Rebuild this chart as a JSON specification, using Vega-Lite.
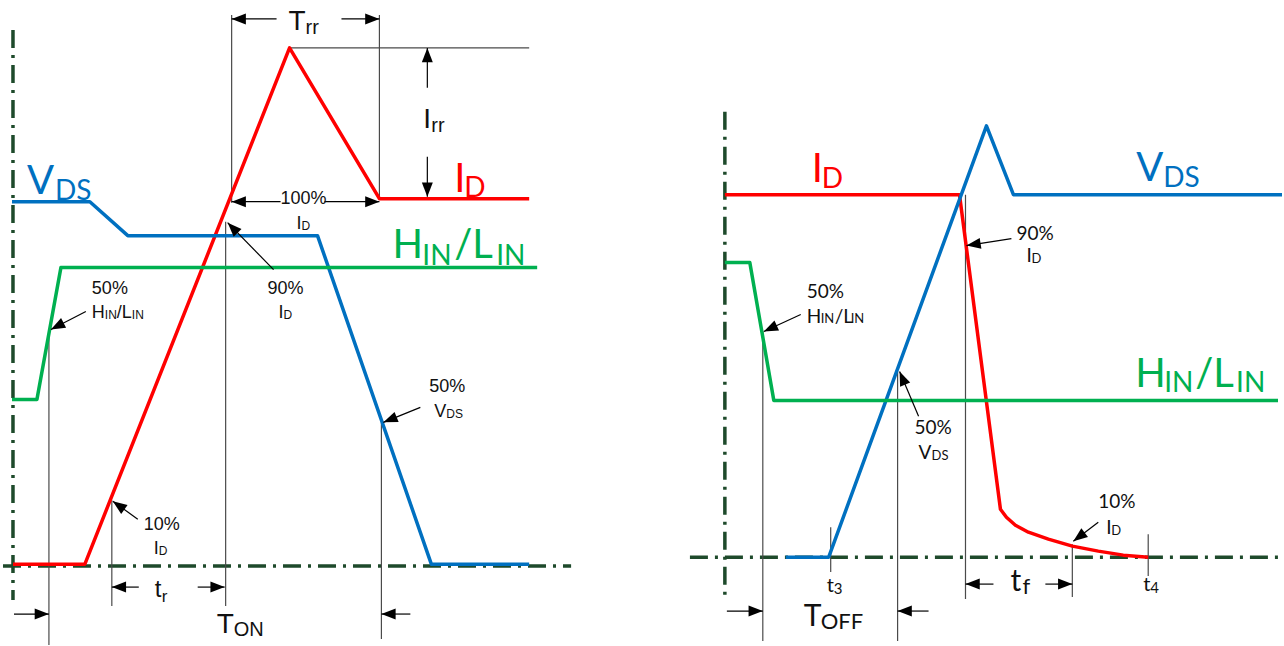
{
  "$schema": "https://vega.github.io/schema/vega-lite/v6.json",
  "width": 1284,
  "height": 646,
  "autosize": {"type": "fit", "contains": "padding"},
  "padding": 0,
  "background": "white",
  "config": {"view": {"stroke": null}},
  "datasets": {
    "axes": [
      {"x": 13, "y": 30, "x2": 13, "y2": 601},
      {"x": 3, "y": 567, "x2": 572, "y2": 567},
      {"x": 726, "y": 112, "x2": 726, "y2": 597},
      {"x": 691, "y": 558, "x2": 1284, "y2": 558}
    ],
    "guides": [
      {"x": 49, "y": 330, "x2": 49, "y2": 646},
      {"x": 112, "y": 501, "x2": 112, "y2": 607},
      {"x": 226, "y": 222, "x2": 226, "y2": 607},
      {"x": 232, "y": 15, "x2": 232, "y2": 203},
      {"x": 380, "y": 15, "x2": 380, "y2": 199},
      {"x": 382, "y": 423, "x2": 382, "y2": 640},
      {"x": 290, "y": 48, "x2": 530, "y2": 48},
      {"x": 764, "y": 332, "x2": 764, "y2": 642},
      {"x": 899, "y": 372, "x2": 899, "y2": 642},
      {"x": 832, "y": 528, "x2": 832, "y2": 573},
      {"x": 967, "y": 195, "x2": 967, "y2": 600},
      {"x": 1074, "y": 545, "x2": 1074, "y2": 598},
      {"x": 1150, "y": 535, "x2": 1150, "y2": 577}
    ],
    "waves": [
      {"p": "L", "s": "ID", "x": 13, "y": 565},
      {"p": "L", "s": "ID", "x": 85, "y": 565},
      {"p": "L", "s": "ID", "x": 290, "y": 48},
      {"p": "L", "s": "ID", "x": 380, "y": 199},
      {"p": "L", "s": "ID", "x": 530, "y": 199},
      {"p": "L", "s": "VDS", "x": 12, "y": 202},
      {"p": "L", "s": "VDS", "x": 90, "y": 202},
      {"p": "L", "s": "VDS", "x": 128, "y": 236},
      {"p": "L", "s": "VDS", "x": 318, "y": 236},
      {"p": "L", "s": "VDS", "x": 432, "y": 565},
      {"p": "L", "s": "VDS", "x": 530, "y": 565},
      {"p": "L", "s": "HIN", "x": 12, "y": 400},
      {"p": "L", "s": "HIN", "x": 37, "y": 400},
      {"p": "L", "s": "HIN", "x": 61, "y": 268},
      {"p": "L", "s": "HIN", "x": 538, "y": 268},
      {"p": "R", "s": "ID", "x": 726, "y": 195},
      {"p": "R", "s": "ID", "x": 961, "y": 195},
      {"p": "R", "s": "ID", "x": 1002, "y": 510},
      {"p": "R", "s": "ID", "x": 1008, "y": 518},
      {"p": "R", "s": "ID", "x": 1017, "y": 526},
      {"p": "R", "s": "ID", "x": 1030, "y": 533},
      {"p": "R", "s": "ID", "x": 1050, "y": 540},
      {"p": "R", "s": "ID", "x": 1074, "y": 547},
      {"p": "R", "s": "ID", "x": 1100, "y": 552},
      {"p": "R", "s": "ID", "x": 1125, "y": 556},
      {"p": "R", "s": "ID", "x": 1150, "y": 558},
      {"p": "R", "s": "VDS", "x": 787, "y": 558},
      {"p": "R", "s": "VDS", "x": 830, "y": 558},
      {"p": "R", "s": "VDS", "x": 988, "y": 126},
      {"p": "R", "s": "VDS", "x": 1015, "y": 195},
      {"p": "R", "s": "VDS", "x": 1284, "y": 195},
      {"p": "R", "s": "HIN", "x": 726, "y": 263},
      {"p": "R", "s": "HIN", "x": 751, "y": 263},
      {"p": "R", "s": "HIN", "x": 775, "y": 401},
      {"p": "R", "s": "HIN", "x": 1280, "y": 401}
    ],
    "arrows": [
      {"x": 277, "y": 19, "hx": 232, "hy": 19},
      {"x": 342, "y": 19, "hx": 380, "hy": 19},
      {"x": 428, "y": 88, "hx": 428, "hy": 48},
      {"x": 428, "y": 157, "hx": 428, "hy": 197},
      {"x": 281, "y": 202, "hx": 232, "hy": 202},
      {"x": 325, "y": 202, "hx": 380, "hy": 202},
      {"x": 274, "y": 270, "hx": 228, "hy": 223},
      {"x": 86, "y": 312, "hx": 51, "hy": 330},
      {"x": 138, "y": 520, "hx": 113, "hy": 502},
      {"x": 421, "y": 408, "hx": 384, "hy": 423},
      {"x": 139, "y": 588, "hx": 112, "hy": 588},
      {"x": 198, "y": 588, "hx": 225, "hy": 588},
      {"x": 14, "y": 615, "hx": 49, "hy": 615},
      {"x": 411, "y": 615, "hx": 382, "hy": 615},
      {"x": 802, "y": 315, "hx": 765, "hy": 332},
      {"x": 1013, "y": 239, "hx": 968, "hy": 246},
      {"x": 920, "y": 417, "hx": 901, "hy": 372},
      {"x": 1100, "y": 523, "hx": 1075, "hy": 542},
      {"x": 728, "y": 612, "hx": 764, "hy": 612},
      {"x": 930, "y": 612, "hx": 899, "hy": 612},
      {"x": 995, "y": 585, "hx": 967, "hy": 585},
      {"x": 1047, "y": 585, "hx": 1074, "hy": 585}
    ],
    "txtL": [
      {"t": "50%", "k": "a", "x": 92, "y": 294},
      {"t": "H", "k": "a", "x": 92, "y": 318},
      {"t": "IN", "k": "as", "x": 105, "y": 319},
      {"t": "/L", "k": "a", "x": 117, "y": 318},
      {"t": "IN", "k": "as", "x": 132, "y": 319},
      {"t": "90%", "k": "a", "x": 268, "y": 294},
      {"t": "I", "k": "a", "x": 279, "y": 318},
      {"t": "D", "k": "as", "x": 284, "y": 319},
      {"t": "100%", "k": "a", "x": 281, "y": 204},
      {"t": "I", "k": "a", "x": 297, "y": 229},
      {"t": "D", "k": "as", "x": 302, "y": 230},
      {"t": "50%", "k": "a", "x": 430, "y": 393},
      {"t": "V", "k": "a", "x": 435, "y": 418},
      {"t": "DS", "k": "as", "x": 447, "y": 419},
      {"t": "10%", "k": "a", "x": 144, "y": 531},
      {"t": "I", "k": "a", "x": 154, "y": 555},
      {"t": "D", "k": "as", "x": 159, "y": 556},
      {"t": "T", "k": "d", "x": 289, "y": 30},
      {"t": "rr", "k": "ds", "x": 306, "y": 34},
      {"t": "I", "k": "d", "x": 424, "y": 128},
      {"t": "rr", "k": "ds", "x": 432, "y": 132},
      {"t": "T", "k": "d", "x": 217, "y": 634},
      {"t": "ON", "k": "ds", "x": 234, "y": 637},
      {"t": "t", "k": "tm", "x": 155, "y": 598},
      {"t": "r", "k": "ts", "x": 162, "y": 603}
    ],
    "txtC": [
      {"t": "V", "k": "B", "s": "VDS", "x": 27, "y": 194},
      {"t": "DS", "k": "b", "s": "VDS", "x": 55, "y": 200},
      {"t": "I", "k": "B", "s": "ID", "x": 455, "y": 192},
      {"t": "D", "k": "b", "s": "ID", "x": 465, "y": 197},
      {"t": "H", "k": "B", "s": "HIN", "x": 393, "y": 258},
      {"t": "IN", "k": "b", "s": "HIN", "x": 423, "y": 265},
      {"t": "/L", "k": "B", "s": "HIN", "x": 455, "y": 258},
      {"t": "IN", "k": "b", "s": "HIN", "x": 497, "y": 265},
      {"t": "I", "k": "B", "s": "ID", "x": 813, "y": 182},
      {"t": "D", "k": "b", "s": "ID", "x": 823, "y": 188},
      {"t": "V", "k": "B", "s": "VDS", "x": 1138, "y": 181},
      {"t": "DS", "k": "b", "s": "VDS", "x": 1165, "y": 187},
      {"t": "H", "k": "B", "s": "HIN", "x": 1137, "y": 388},
      {"t": "IN", "k": "b", "s": "HIN", "x": 1166, "y": 393},
      {"t": "/L", "k": "B", "s": "HIN", "x": 1197, "y": 388},
      {"t": "IN", "k": "b", "s": "HIN", "x": 1238, "y": 393},
      {"t": "50%", "k": "r", "s": "ann", "x": 808, "y": 298},
      {"t": "H", "k": "r", "s": "ann", "x": 808, "y": 323},
      {"t": "IN", "k": "rs", "s": "ann", "x": 822, "y": 324},
      {"t": "/L", "k": "r", "s": "ann", "x": 836, "y": 323},
      {"t": "IN", "k": "rs", "s": "ann", "x": 852, "y": 324},
      {"t": "90%", "k": "r", "s": "ann", "x": 1018, "y": 240},
      {"t": "I", "k": "r", "s": "ann", "x": 1028, "y": 262},
      {"t": "D", "k": "rs", "s": "ann", "x": 1033, "y": 263},
      {"t": "50%", "k": "r", "s": "ann", "x": 916, "y": 435},
      {"t": "V", "k": "r", "s": "ann", "x": 920, "y": 460},
      {"t": "DS", "k": "rs", "s": "ann", "x": 933, "y": 461},
      {"t": "10%", "k": "r", "s": "ann", "x": 1100, "y": 509},
      {"t": "I", "k": "r", "s": "ann", "x": 1108, "y": 535},
      {"t": "D", "k": "rs", "s": "ann", "x": 1113, "y": 536},
      {"t": "t", "k": "q", "s": "ann", "x": 828, "y": 593},
      {"t": "3", "k": "qs", "s": "ann", "x": 835, "y": 595},
      {"t": "t", "k": "q", "s": "ann", "x": 1145, "y": 592},
      {"t": "4", "k": "qs", "s": "ann", "x": 1152, "y": 594},
      {"t": "T", "k": "E", "s": "ann", "x": 805, "y": 627},
      {"t": "OFF", "k": "Es", "s": "ann", "x": 822, "y": 630},
      {"t": "t", "k": "E", "s": "ann", "x": 1012, "y": 592},
      {"t": "f", "k": "Es", "s": "ann", "x": 1024, "y": 595}
    ]
  },
  "encoding": {
    "x": {"field": "x", "type": "quantitative", "scale": {"domain": [0, 1284], "nice": false, "zero": false}, "axis": null},
    "y": {"field": "y", "type": "quantitative", "scale": {"domain": [0, 646], "nice": false, "zero": false, "reverse": true}, "axis": null}
  },
  "layer": [
    {
      "data": {"name": "axes"},
      "mark": {"type": "rule", "strokeDash": [18, 7, 3, 7], "strokeWidth": 3.5, "color": "#1e4a2b"},
      "encoding": {"x2": {"field": "x2"}, "y2": {"field": "y2"}}
    },
    {
      "data": {"name": "guides"},
      "mark": {"type": "rule", "strokeWidth": 1.2, "color": "#4a4a4a"},
      "encoding": {"x2": {"field": "x2"}, "y2": {"field": "y2"}}
    },
    {
      "data": {"name": "waves"},
      "mark": {"type": "line", "strokeWidth": 3.5, "strokeJoin": "round"},
      "encoding": {
        "color": {"field": "s", "type": "nominal", "scale": {"domain": ["ID", "VDS", "HIN", "ann"], "range": ["#ff0000", "#0070c0", "#00b050", "#111111"]}, "legend": null},
        "detail": {"field": "p", "type": "nominal"}
      }
    },
    {
      "data": {"name": "arrows"},
      "mark": {"type": "rule", "strokeWidth": 1.2, "color": "#000000"},
      "encoding": {"x2": {"field": "hx"}, "y2": {"field": "hy"}}
    },
    {
      "data": {"name": "arrows"},
      "transform": [{"calculate": "atan2(datum.hy - datum.y, datum.hx - datum.x) * 180 / PI", "as": "ang"}],
      "mark": {"type": "point", "shape": "M0,0L-2.6,-1L-2.6,1Z", "filled": true, "size": 120, "opacity": 1, "color": "#000000", "strokeWidth": 0},
      "encoding": {
        "x": {"field": "hx", "type": "quantitative"},
        "y": {"field": "hy", "type": "quantitative"},
        "angle": {"field": "ang", "type": "quantitative", "scale": null}
      }
    },
    {"data": {"name": "txtL"}, "transform": [{"filter": "datum.k === 'a'"}], "mark": {"type": "text", "align": "left", "baseline": "alphabetic", "font": "Liberation Sans", "fontSize": 18, "color": "#111111"}, "encoding": {"text": {"field": "t"}}},
    {"data": {"name": "txtL"}, "transform": [{"filter": "datum.k === 'as'"}], "mark": {"type": "text", "align": "left", "baseline": "alphabetic", "font": "Liberation Sans", "fontSize": 12, "color": "#111111"}, "encoding": {"text": {"field": "t"}}},
    {"data": {"name": "txtL"}, "transform": [{"filter": "datum.k === 'd'"}], "mark": {"type": "text", "align": "left", "baseline": "alphabetic", "font": "Liberation Sans", "fontSize": 28, "color": "#111111"}, "encoding": {"text": {"field": "t"}}},
    {"data": {"name": "txtL"}, "transform": [{"filter": "datum.k === 'ds'"}], "mark": {"type": "text", "align": "left", "baseline": "alphabetic", "font": "Liberation Sans", "fontSize": 20, "color": "#111111"}, "encoding": {"text": {"field": "t"}}},
    {"data": {"name": "txtL"}, "transform": [{"filter": "datum.k === 'tm'"}], "mark": {"type": "text", "align": "left", "baseline": "alphabetic", "font": "Liberation Sans", "fontSize": 24, "color": "#111111"}, "encoding": {"text": {"field": "t"}}},
    {"data": {"name": "txtL"}, "transform": [{"filter": "datum.k === 'ts'"}], "mark": {"type": "text", "align": "left", "baseline": "alphabetic", "font": "Liberation Sans", "fontSize": 17, "color": "#111111"}, "encoding": {"text": {"field": "t"}}},
    {
      "data": {"name": "txtC"},
      "transform": [{"filter": "datum.k === 'B'"}],
      "mark": {"type": "text", "align": "left", "baseline": "alphabetic", "font": "Lato", "fontSize": 40},
      "encoding": {"text": {"field": "t"}, "color": {"field": "s", "type": "nominal", "scale": {"domain": ["ID", "VDS", "HIN", "ann"], "range": ["#ff0000", "#0070c0", "#00b050", "#111111"]}, "legend": null}}
    },
    {
      "data": {"name": "txtC"},
      "transform": [{"filter": "datum.k === 'b'"}],
      "mark": {"type": "text", "align": "left", "baseline": "alphabetic", "font": "Lato", "fontSize": 28},
      "encoding": {"text": {"field": "t"}, "color": {"field": "s", "type": "nominal", "scale": {"domain": ["ID", "VDS", "HIN", "ann"], "range": ["#ff0000", "#0070c0", "#00b050", "#111111"]}, "legend": null}}
    },
    {"data": {"name": "txtC"}, "transform": [{"filter": "datum.k === 'r'"}], "mark": {"type": "text", "align": "left", "baseline": "alphabetic", "font": "Lato", "fontSize": 19, "color": "#111111"}, "encoding": {"text": {"field": "t"}}},
    {"data": {"name": "txtC"}, "transform": [{"filter": "datum.k === 'rs'"}], "mark": {"type": "text", "align": "left", "baseline": "alphabetic", "font": "Lato", "fontSize": 13, "color": "#111111"}, "encoding": {"text": {"field": "t"}}},
    {"data": {"name": "txtC"}, "transform": [{"filter": "datum.k === 'q'"}], "mark": {"type": "text", "align": "left", "baseline": "alphabetic", "font": "Lato", "fontSize": 20, "color": "#111111"}, "encoding": {"text": {"field": "t"}}},
    {"data": {"name": "txtC"}, "transform": [{"filter": "datum.k === 'qs'"}], "mark": {"type": "text", "align": "left", "baseline": "alphabetic", "font": "Lato", "fontSize": 15, "color": "#111111"}, "encoding": {"text": {"field": "t"}}},
    {"data": {"name": "txtC"}, "transform": [{"filter": "datum.k === 'E'"}], "mark": {"type": "text", "align": "left", "baseline": "alphabetic", "font": "Lato", "fontSize": 30, "color": "#111111"}, "encoding": {"text": {"field": "t"}}},
    {"data": {"name": "txtC"}, "transform": [{"filter": "datum.k === 'Es'"}], "mark": {"type": "text", "align": "left", "baseline": "alphabetic", "font": "Lato", "fontSize": 22, "color": "#111111"}, "encoding": {"text": {"field": "t"}}}
  ]
}
